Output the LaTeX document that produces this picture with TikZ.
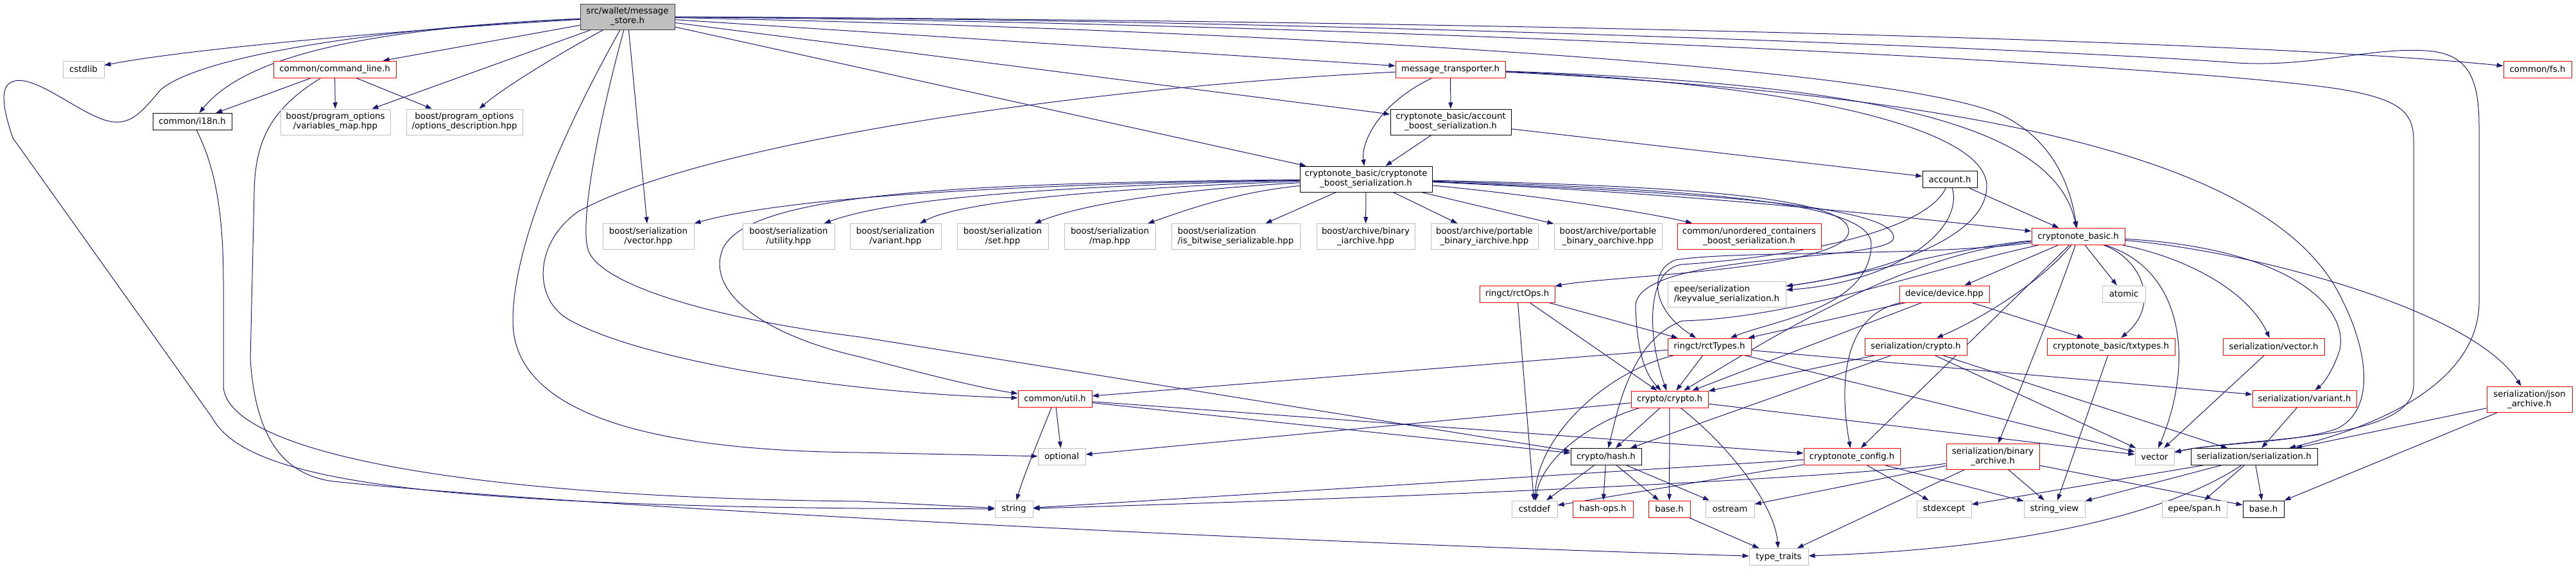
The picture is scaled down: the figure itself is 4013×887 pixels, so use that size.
\documentclass[tikz,border=0pt]{standalone}
\usepackage{fontspec}
\setmainfont{DejaVu Sans}
\usetikzlibrary{arrows.meta,backgrounds}
\definecolor{edgec}{HTML}{191970}
\definecolor{boxgray}{HTML}{BFBFBF}
\definecolor{boxred}{HTML}{FF0000}
\definecolor{boxblack}{HTML}{000000}
\definecolor{maindraw}{HTML}{404040}
\definecolor{mainfill}{HTML}{BFBFBF}
\newcommand\dgfont{\fontsize{13.33}{15}\selectfont}
\begin{document}
\begin{tikzpicture}[x=1pt,y=-1pt,
 box/.style={draw, line width=1pt, fill=white, inner sep=0pt, minimum height=26pt, align=center, font=\dgfont},
 two/.style={minimum height=40pt},
 gbox/.style={box, draw=boxgray},
 rbox/.style={box, draw=boxred},
 kbox/.style={box, draw=boxblack},
 mbox/.style={box, draw=maindraw, fill=mainfill},
 dep/.style={draw=edgec, line width=1pt, -{Triangle[length=10pt,width=7pt]}},
]
\useasboundingbox (0,0) rectangle (4013,887);

% ---------- nodes ----------
\node[mbox,two,minimum width=147pt] (main) at (977.5,26) {src/wallet/message\\\_store.h};
\node[gbox,minimum width=64pt] (cstdlib) at (130,108) {cstdlib};
\node[rbox,minimum width=191pt] (cmdline) at (521.5,108) {common/command\_line.h};
\node[kbox,minimum width=123pt] (i18n) at (299.5,189.5) {common/i18n.h};
\node[gbox,two,minimum width=171pt] (varmap) at (522.5,190) {boost/program\_options\\/variables\_map.hpp};
\node[gbox,two,minimum width=181pt] (optdesc) at (723.5,190) {boost/program\_options\\/options\_description.hpp};
\node[gbox,two,minimum width=142pt] (bsvector) at (1010,368.5) {boost/serialization\\/vector.hpp};
\node[gbox,two,minimum width=143pt] (bsutility) at (1228.5,368.5) {boost/serialization\\/utility.hpp};
\node[gbox,two,minimum width=142pt] (bsvariant) at (1395,368.5) {boost/serialization\\/variant.hpp};
\node[gbox,two,minimum width=142pt] (bsset) at (1562,368.5) {boost/serialization\\/set.hpp};
\node[gbox,two,minimum width=142pt] (bsmap) at (1729,368.5) {boost/serialization\\/map.hpp};
\node[gbox,two,minimum width=200pt,align=left] (bsbitwise) at (1925,368.5) {boost/serialization\\/is\_bitwise\_serializable.hpp};
\node[gbox,two,minimum width=153pt] (bbinia) at (2127.5,368.5) {boost/archive/binary\\\_iarchive.hpp};
\node[gbox,two,minimum width=167pt] (pbia) at (2312.5,368.5) {boost/archive/portable\\\_binary\_iarchive.hpp};
\node[gbox,two,minimum width=168pt] (pboa) at (2505,368.5) {boost/archive/portable\\\_binary\_oarchive.hpp};
\node[rbox,two,minimum width=224pt] (unord) at (2725,368) {common/unordered\_containers\\\_boost\_serialization.h};
\node[rbox,minimum width=171pt] (msgtr) at (2259.5,108) {message\_transporter.h};
\node[kbox,two,minimum width=188pt] (acctbs) at (2260,190) {cryptonote\_basic/account\\\_boost\_serialization.h};
\node[kbox,two,minimum width=206pt] (cbs) at (2128,279) {cryptonote\_basic/cryptonote\\\_boost\_serialization.h};
\node[rbox,minimum width=106pt] (fs) at (3953,108) {common/fs.h};
\node[kbox,minimum width=85pt] (account) at (3037.5,279.5) {account.h};
\node[rbox,minimum width=145pt] (cb) at (3237.5,368.5) {cryptonote\_basic.h};
\node[gbox,two,minimum width=184pt,align=left] (epee) at (2690,458) {epee/serialization\\/keyvalue\_serialization.h};
\node[rbox,minimum width=117pt] (rctops) at (2363.5,458) {ringct/rctOps.h};
\node[rbox,minimum width=130pt] (rcttypes) at (2663,540) {ringct/rctTypes.h};
\node[rbox,minimum width=140pt] (device) at (3029,458) {device/device.hpp};
\node[gbox,minimum width=67pt] (atomic) at (3308.5,458) {atomic};
\node[rbox,minimum width=159pt] (sercrypto) at (2984.5,540) {serialization/crypto.h};
\node[rbox,minimum width=199pt] (txtypes) at (3288.5,540) {cryptonote\_basic/txtypes.h};
\node[rbox,minimum width=158pt] (servector) at (3542,540) {serialization/vector.h};
\node[rbox,minimum width=162pt] (servariant) at (3590,621.5) {serialization/variant.h};
\node[rbox,two,minimum width=133pt] (json) at (3940.5,622) {serialization/json\\\_archive.h};
\node[rbox,minimum width=115pt] (util) at (1643.5,621.5) {common/util.h};
\node[gbox,minimum width=74pt] (optional) at (1654,711.5) {optional};
\node[gbox,minimum width=59pt] (string) at (1579.5,793) {string};
\node[rbox,minimum width=120pt] (crypto) at (2601,622) {crypto/crypto.h};
\node[kbox,minimum width=110pt] (hash) at (2502,711.5) {crypto/hash.h};
\node[gbox,minimum width=71pt] (cstddef) at (2390.5,793) {cstddef};
\node[rbox,minimum width=94pt] (hashops) at (2497,793) {hash-ops.h};
\node[rbox,minimum width=65pt] (base1) at (2600.5,793) {base.h};
\node[gbox,minimum width=76pt] (ostream) at (2695,793) {ostream};
\node[gbox,minimum width=92pt] (typetraits) at (2771,867.5) {type\_traits};
\node[rbox,minimum width=150pt] (cnconfig) at (2885,711.5) {cryptonote\_config.h};
\node[rbox,two,minimum width=145pt] (binarch) at (3104.5,711) {serialization/binary\\\_archive.h};
\node[gbox,minimum width=61pt] (vector) at (3356.5,711.5) {vector};
\node[kbox,minimum width=197pt] (serser) at (3511.5,711.5) {serialization/serialization.h};
\node[gbox,minimum width=85pt] (stdexcept) at (3028.5,793) {stdexcept};
\node[gbox,minimum width=95pt] (stringview) at (3200.5,793) {string\_view};
\node[gbox,minimum width=101pt] (span) at (3418.5,793) {epee/span.h};
\node[kbox,minimum width=64pt] (base2) at (3526,793) {base.h};

% ---------- edges ----------
\begin{scope}[on background layer]
% main
\draw[dep] (main) .. controls (650,45) and (300,75) .. (cstdlib);
\draw[dep] (main) -- (cmdline);
\draw[dep] (main) .. controls (560,45) and (380,90) .. (i18n);
\draw[dep] (main) .. controls (650,40) and (320,80) .. (250,140) .. controls (218,178) and (200,200) .. (160,186) .. controls (110,168) and (40,105) .. (12,132) .. controls (0,145) and (8,180) .. (20,215) -- (330,650) .. controls (380,740) and (600,785) .. (1340,792) -- (string);
\draw[dep] (main) -- (varmap);
\draw[dep] (main) .. controls (860,90) and (780,140) .. (optdesc);
\draw[dep] (main) -- (bsvector);
\draw[dep] (main) .. controls (880,200) and (799,380) .. (799,500) .. controls (799,640) and (1000,702) .. (1340,705) -- (optional);
\draw[dep] (main) .. controls (930,200) and (905,340) .. (915,385) .. controls (925,440) and (1100,495) .. (1340,525) -- (hash);
\draw[dep] (main) -- (msgtr);
\draw[dep] (main) -- (acctbs);
\draw[dep] (main) -- (cbs);
\draw[dep] (main) .. controls (2300,32) and (3500,62) .. (fs);
\draw[dep] (main) .. controls (2100,30) and (3250,80) .. (3471,97) .. controls (3600,108) and (3700,70) .. (3790,80) .. controls (3850,88) and (3862,130) .. (3862,200) -- (3862,470) .. controls (3862,590) and (3720,660) .. (serser);
\draw[dep] (main) .. controls (2100,35) and (3400,100) .. (3646,139) .. controls (3740,155) and (3760,175) .. (3760,220) -- (3760,600) .. controls (3760,690) and (3500,680) .. (vector);
\draw[dep] (main) .. controls (1900,45) and (2950,100) .. (3120,180) .. controls (3200,220) and (3225,290) .. (cb);
% command_line
\draw[dep] (cmdline) -- (i18n);
\draw[dep] (cmdline) -- (varmap);
\draw[dep] (cmdline) -- (optdesc);
\draw[dep] (cmdline) .. controls (430,165) and (397,210) .. (396,300) -- (390,560) .. controls (398,680) and (440,740) .. (520,750) .. controls (900,790) and (2000,845) .. (typetraits);
% i18n
\draw[dep] (i18n) .. controls (335,260) and (348,330) .. (348,440) -- (348,600) .. controls (348,700) and (700,775) .. (1340,781) -- (string);
% message_transporter
\draw[dep] (msgtr) -- (acctbs);
\draw[dep] (msgtr) .. controls (2150,160) and (2120,220) .. (cbs);
\draw[dep] (msgtr) .. controls (1700,135) and (1100,220) .. (900,330) .. controls (830,380) and (830,470) .. (890,500) .. controls (1000,560) and (1300,612) .. (util);
\draw[dep] (msgtr) .. controls (2900,130) and (3200,190) .. (cb);
\draw[dep] (msgtr) .. controls (2800,130) and (3095,200) .. (3095,290) .. controls (3095,380) and (2900,430) .. (epee);
\draw[dep] (msgtr) .. controls (3100,150) and (3550,250) .. (3650,470) .. controls (3690,550) and (3700,640) .. (3640,668) .. controls (3580,690) and (3450,690) .. (vector);
% account_boost_serialization
\draw[dep] (acctbs) -- (cbs);
\draw[dep] (acctbs) -- (account);
% cryptonote_boost_serialization
\draw[dep] (cbs) .. controls (1700,285) and (1250,300) .. (bsvector);
\draw[dep] (cbs) .. controls (1700,288) and (1400,305) .. (bsutility);
\draw[dep] (cbs) .. controls (1750,292) and (1500,312) .. (bsvariant);
\draw[dep] (cbs) .. controls (1820,296) and (1680,320) .. (bsset);
\draw[dep] (cbs) .. controls (1920,300) and (1840,330) .. (bsmap);
\draw[dep] (cbs) -- (bsbitwise);
\draw[dep] (cbs) -- (bbinia);
\draw[dep] (cbs) -- (pbia);
\draw[dep] (cbs) -- (pboa);
\draw[dep] (cbs) .. controls (2400,305) and (2560,330) .. (unord);
\draw[dep] (cbs) .. controls (2600,300) and (2900,330) .. (cb);
\draw[dep] (cbs) .. controls (1500,285) and (1160,300) .. (1125,390) .. controls (1100,460) and (1200,525) .. (1340,556) .. controls (1450,585) and (1530,605) .. (util);
\draw[dep] (cbs) .. controls (2650,290) and (2880,310) .. (2880,360) .. controls (2880,420) and (2500,430) .. (rctops);
\draw[dep] (cbs) .. controls (2650,295) and (2915,315) .. (2915,380) .. controls (2915,480) and (2760,500) .. (rcttypes);
\draw[dep] (cbs) .. controls (2650,300) and (2950,320) .. (2950,370) .. controls (2950,410) and (2540,390) .. (2548,480) .. controls (2550,540) and (2560,580) .. (crypto);
% account
\draw[dep] (account) -- (cb);
\draw[dep] (account) .. controls (3060,360) and (2950,440) .. (epee);
\draw[dep] (account) .. controls (3000,360) and (2800,400) .. (2620,412) .. controls (2565,420) and (2565,520) .. (crypto);
% cryptonote_basic
\draw[dep] (cb) -- (device);
\draw[dep] (cb) -- (atomic);
\draw[dep] (cb) .. controls (3180,440) and (3080,500) .. (sercrypto);
\draw[dep] (cb) .. controls (3330,400) and (3370,470) .. (txtypes);
\draw[dep] (cb) .. controls (3210,450) and (3150,600) .. (binarch);
\draw[dep] (cb) -- (cnconfig);
\draw[dep] (cb) .. controls (3400,420) and (3420,560) .. (vector);
\draw[dep] (cb) .. controls (3400,400) and (3500,450) .. (servector);
\draw[dep] (cb) .. controls (3550,385) and (3660,470) .. (3645,545) .. controls (3635,575) and (3622,595) .. (servariant);
\draw[dep] (cb) .. controls (3500,390) and (3850,480) .. (json);
\draw[dep] (cb) .. controls (3050,385) and (2900,430) .. (epee);
\draw[dep] (cb) .. controls (3000,400) and (2700,390) .. (2610,405) .. controls (2570,420) and (2570,480) .. (rcttypes);
\draw[dep] (cb) .. controls (2980,395) and (2800,500) .. (crypto);
\draw[dep] (cb) .. controls (3000,420) and (2800,495) .. (2620,500) .. controls (2540,530) and (2520,640) .. (hash);
% device
\draw[dep] (device) -- (rcttypes);
\draw[dep] (device) -- (crypto);
\draw[dep] (device) .. controls (2870,490) and (2865,600) .. (cnconfig);
\draw[dep] (device) -- (txtypes);
% rctOps
\draw[dep] (rctops) -- (rcttypes);
\draw[dep] (rctops) -- (crypto);
\draw[dep] (rctops) -- (cstddef);
% rctTypes
\draw[dep] (rcttypes) -- (util);
\draw[dep] (rcttypes) -- (crypto);
\draw[dep] (rcttypes) .. controls (2500,580) and (2395,680) .. (cstddef);
\draw[dep] (rcttypes) -- (vector);
\draw[dep] (rcttypes) -- (servariant);
% serialization/crypto
\draw[dep] (sercrypto) -- (crypto);
\draw[dep] (sercrypto) -- (hash);
\draw[dep] (sercrypto) -- (vector);
\draw[dep] (sercrypto) -- (serser);
% others
\draw[dep] (txtypes) -- (stringview);
\draw[dep] (servector) -- (vector);
\draw[dep] (servariant) -- (serser);
\draw[dep] (json) -- (serser);
\draw[dep] (json) -- (base2);
% util
\draw[dep] (util) -- (optional);
\draw[dep] (util) .. controls (1620,680) and (1595,740) .. (string);
\draw[dep] (util) -- (hash);
\draw[dep] (util) -- (cnconfig);
% crypto
\draw[dep] (crypto) -- (optional);
\draw[dep] (crypto) -- (hash);
\draw[dep] (crypto) .. controls (2470,660) and (2400,720) .. (cstddef);
\draw[dep] (crypto) -- (base1);
\draw[dep] (crypto) .. controls (2700,700) and (2765,790) .. (typetraits);
\draw[dep] (crypto) -- (vector);
% hash
\draw[dep] (hash) -- (cstddef);
\draw[dep] (hash) -- (hashops);
\draw[dep] (hash) -- (base1);
\draw[dep] (hash) -- (ostream);
\draw[dep] (base1) -- (typetraits);
% cryptonote_config
\draw[dep] (cnconfig) -- (string);
\draw[dep] (cnconfig) -- (cstddef);
\draw[dep] (cnconfig) -- (stdexcept);
\draw[dep] (cnconfig) -- (stringview);
% binary_archive
\draw[dep] (binarch) .. controls (2900,742) and (2300,772) .. (string);
\draw[dep] (binarch) -- (ostream);
\draw[dep] (binarch) -- (typetraits);
\draw[dep] (binarch) -- (stringview);
\draw[dep] (binarch) -- (base2);
% serialization
\draw[dep] (serser) -- (stdexcept);
\draw[dep] (serser) -- (stringview);
\draw[dep] (serser) .. controls (3380,800) and (3150,855) .. (typetraits);
\draw[dep] (serser) -- (span);
\draw[dep] (serser) -- (base2);
\end{scope}
\end{tikzpicture}
\end{document}
